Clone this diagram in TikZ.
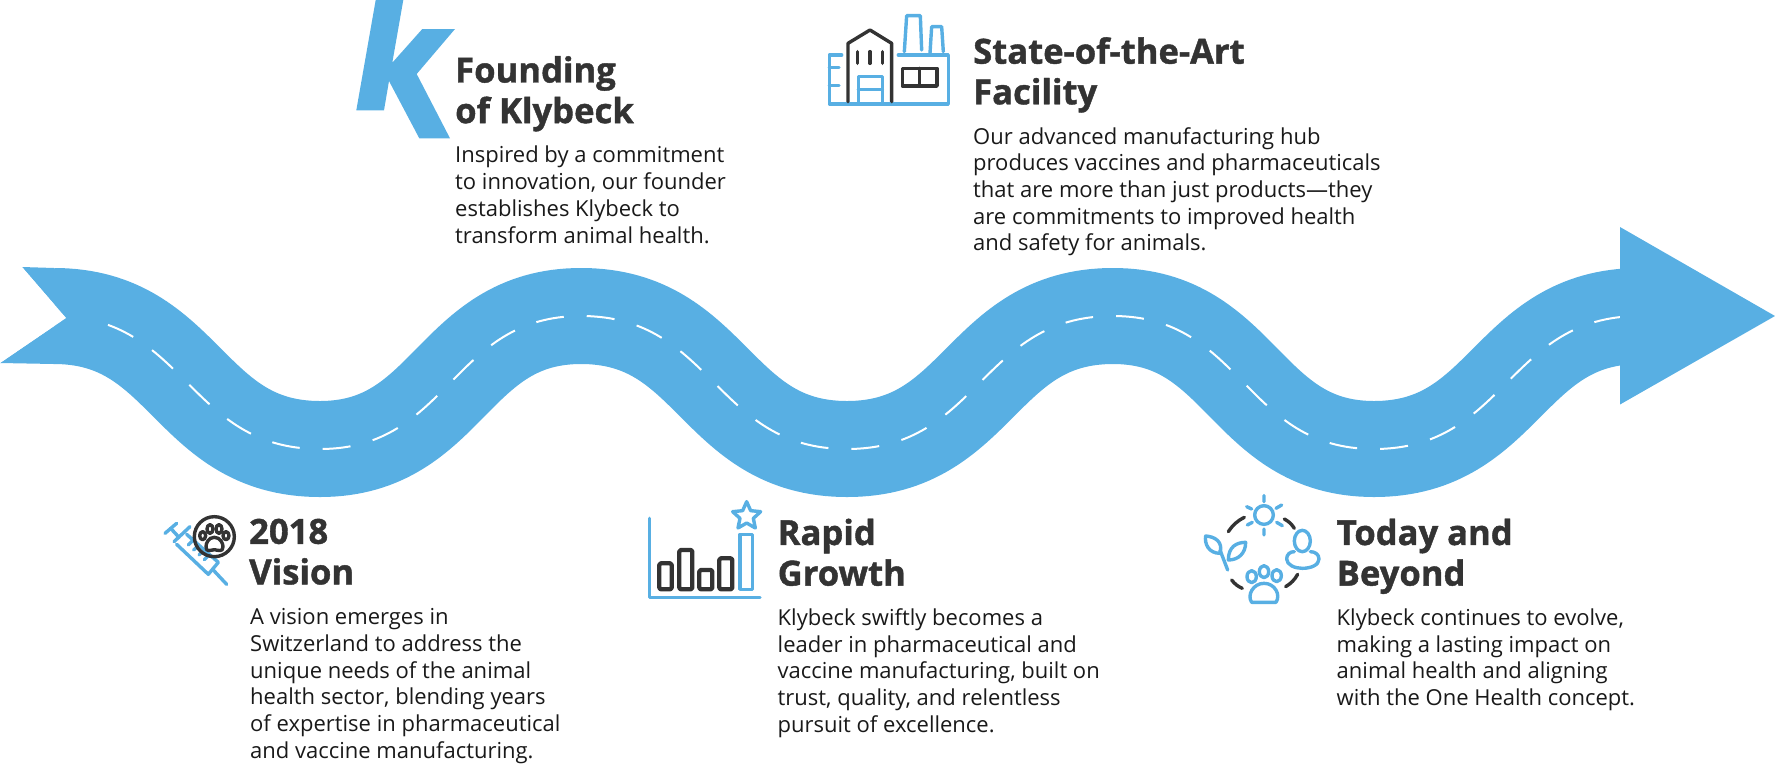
\documentclass[tikz,border=0pt]{standalone}
\usepackage{fontspec}
\setmainfont{Open Sans}
\newfontfamily\headfont{Open Sans}[BoldFeatures={FakeBold=1.2}]
\definecolor{kblue}{HTML}{58AFE3}
\definecolor{kdark}{HTML}{333333}
\tikzset{
  heading/.style={anchor=north west,inner sep=0pt,align=left,text=kdark,font=\headfont\bfseries\fontsize{34.6}{40.6}\selectfont},
  bodytext/.style={anchor=north west,inner sep=0pt,align=left,text=black!90,font=\fontsize{22}{26.7}\selectfont},
  road/.style={draw=kblue,line width=96pt,line cap=butt},
  lane/.style={draw=white,line width=2pt,dash pattern=on 28pt off 23pt,dash phase=47pt},
  bi/.style={draw=kblue,line width=3.4pt,line cap=round,line join=round},
  di/.style={draw=kdark,line width=3.4pt,line cap=round,line join=round},
  bar/.style={draw=kdark,line width=4.3pt,line join=round},
  zoomed/.style={x=0.3333pt,y=-0.3333pt}
}
\begin{document}
\begin{tikzpicture}[x=1pt,y=-1pt]
\useasboundingbox (0,0) rectangle (1775,764);
% ribbon
\coordinate (c0) at (54,316);
\coordinate (c1) at (320,449);
\coordinate (c2) at (581,316);
\coordinate (c3) at (847,449);
\coordinate (c4) at (1113,316);
\coordinate (c5) at (1374,449);
\coordinate (c6) at (1640,316);
\def\roadpath{(c0) .. controls +(133,0) and +(-133,0) .. (c1)
  .. controls +(130,0) and +(-130,0) .. (c2)
  .. controls +(133,0) and +(-133,0) .. (c3)
  .. controls +(133,0) and +(-133,0) .. (c4)
  .. controls +(130,0) and +(-130,0) .. (c5)
  .. controls +(133,0) and +(-133,0) .. (c6)}
\draw[road] \roadpath;
\draw[lane] \roadpath;
\fill[kblue] (22,267) -- (66,318) -- (0,363) -- (54,364) -- (95,322) -- (54,268) -- cycle;
\fill[white] (-1,266) -- (22,267) -- (66,318) -- (0,363) -- (-1,364) -- cycle;
\fill[kblue] (1620,227) -- (1775,316) -- (1620,404.5) -- cycle;
% K
\fill[kblue] (375.7,0) -- (403.3,0) -- (392.3,62.7) -- (422.3,29) -- (455,29) -- (416.7,74) -- (450,138.3) -- (419.3,138.3) -- (389,81) -- (384,110.3) -- (356.3,110.3) -- cycle;
% factory
\begin{scope}[shift={(815,0)},zoomed]
\draw[bi] (80,165) -- (43,165) -- (43,312) -- (400,312) -- (400,165) -- (250,165);
\draw[bi] (43,203) -- (72,203) (43,256) -- (72,256);
\draw[bi] (130,312) -- (130,230) -- (202,230) -- (202,312) (130,268) -- (202,268);
\draw[bi] (268,155) -- (275,47) -- (316,47) -- (320,150);
\draw[bi] (345,160) -- (350,80) -- (380,80) -- (385,155);
\draw[di] (99,305) -- (99,130) -- (165,90) -- (230,130) -- (230,305);
\draw[di] (128,155) -- (128,190) (165,155) -- (165,190) (202,155) -- (202,190);
\draw[di] (262,205) rectangle (366,258) (314,205) -- (314,258);
\end{scope}
% syringe and paw
\begin{scope}[shift={(155,505)},zoomed]
\draw[bi] (30,85) -- (65,55);
\draw[bi] (47,70) -- (72,97);
\draw[bi] (57,110) -- (105,65);
\draw[bi] (65,118) -- (160,208) -- (190,172) -- (95,88);
\draw[bi] (172,192) -- (215,238);
\draw[bi] (112,108) -- (100,120) (128,123) -- (116,135) (144,138) -- (132,150) (160,152) -- (148,164);
\draw[di] (178,95) circle[radius=60];
\draw[di] (143,92) circle[x radius=9,y radius=12];
\draw[di] (165,72) circle[x radius=9,y radius=13];
\draw[di] (192,72) circle[x radius=9,y radius=13];
\draw[di] (213,92) circle[x radius=9,y radius=12];
\draw[di] (178,97) .. controls (160,97) and (153,115) .. (153,125) .. controls (153,142) and (165,136) .. (178,134) .. controls (191,136) and (204,142) .. (204,125) .. controls (204,115) and (196,97) .. (178,97) -- cycle;
\end{scope}
% chart
\begin{scope}[shift={(640,490)},zoomed]
\draw[bi] (28,85) -- (28,322) -- (360,322);
\draw[bar,rounded corners=1.5pt] (58,220) rectangle (95,298);
\draw[bar,rounded corners=1.5pt] (118,180) rectangle (157,298);
\draw[bar,rounded corners=1.5pt] (178,240) rectangle (217,298);
\draw[bar,rounded corners=1.5pt] (238,205) rectangle (277,298);
\draw[bi] (300,133) rectangle (337,298);
\draw[bi] (320,35) -- (332,62) -- (362,65) -- (340,85) -- (346,114) -- (320,99) -- (294,114) -- (300,85) -- (278,65) -- (308,62) -- cycle;
\end{scope}
% today icon
\begin{scope}[shift={(1195,485)},zoomed]
\draw[bi] (207,90) circle[radius=28];
\draw[bi] (207,32) -- (207,50) (207,132) -- (207,150) (155,65) -- (170,72) (243,70) -- (260,60) (157,120) -- (172,112) (245,112) -- (262,122);
\draw[di] (100,140) to[bend left=14] (148,97);
\draw[di] (268,102) to[bend left=14] (298,130);
\draw[di] (142,310) to[bend left=14] (110,285);
\draw[di] (308,268) to[bend left=14] (272,305);
\draw[bi] (322,168) circle[x radius=24,y radius=32];
\draw[bi] (298,200) .. controls (285,200) and (275,208) .. (275,222) .. controls (275,240) and (300,250) .. (322,250) .. controls (348,250) and (372,240) .. (372,222) .. controls (372,208) and (360,200) .. (346,200);
\draw[bi] (170,275) circle[x radius=14,y radius=18];
\draw[bi] (207,260) circle[x radius=14,y radius=18];
\draw[bi] (245,272) circle[x radius=14,y radius=18];
\draw[bi] (170,352) .. controls (155,330) and (175,295) .. (207,295) .. controls (240,295) and (258,330) .. (243,352) -- cycle;
\draw[bi] (75,205) .. controls (40,205) and (28,175) .. (32,153) .. controls (60,155) and (85,170) .. (75,205) -- cycle;
\draw[bi] (75,195) -- (98,255);
\draw[bi] (100,225) .. controls (130,225) and (152,205) .. (152,172) .. controls (125,172) and (100,185) .. (100,225) -- cycle;
\end{scope}
% texts
\node[heading] (h1) at (455,56) {Founding\\of Klybeck};
\node[bodytext] (b1) at (455,146) {Inspired by a commitment\\to innovation, our founder\\establishes Klybeck to\\transform animal health.};
\node[heading] (h2) at (973,37) {State-of-the-Art\\Facility};
\node[bodytext] (b2) at (973,127) {Our advanced manufacturing hub\\produces vaccines and pharmaceuticals\\that are more than just products—they\\are commitments to improved health\\and safety for animals.};
\node[heading] (h3) at (249,518.5) {2018\\Vision};
\node[bodytext] (b3) at (250,608.5) {A vision emerges in\\Switzerland to address the\\unique needs of the animal\\health sector, blending years\\of expertise in pharmaceutical\\and vaccine manufacturing.};
\node[heading] (h4) at (777.5,518.5) {Rapid\\Growth};
\node[bodytext] (b4) at (777.5,608.5) {Klybeck swiftly becomes a\\leader in pharmaceutical and\\vaccine manufacturing, built on\\trust, quality, and relentless\\pursuit of excellence.};
\node[heading] (h5) at (1336.5,518.5) {Today and\\Beyond};
\node[bodytext] (b5) at (1336.5,608.5) {Klybeck continues to evolve,\\making a lasting impact on\\animal health and aligning\\with the One Health concept.};
\end{tikzpicture}
\end{document}
